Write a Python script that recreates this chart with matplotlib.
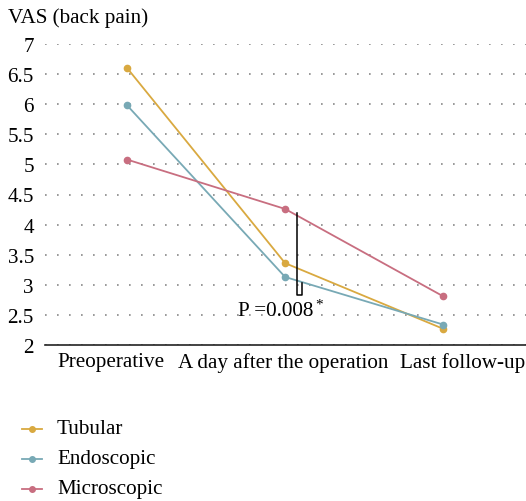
import matplotlib
matplotlib.use("Agg")
import matplotlib.pyplot as plt
from matplotlib.lines import Line2D
from matplotlib.transforms import ScaledTranslation

categories = ["Preoperative", "A day after the operation", "Last follow-up"]
series_names = ["Tubular", "Endoscopic", "Microscopic"]
tubular = [6.60, 3.36, 2.27]
endoscopic = [5.98, 3.13, 2.34]
microscopic = [5.08, 4.26, 2.81]
yticks = [2, 2.5, 3, 3.5, 4, 4.5, 5, 5.5, 6, 6.5, 7]
ytick_labels = ["2", "2.5", "3", "3.5", "4", "4.5", "5", "5.5", "6", "6.5", "7"]
colors = ["#D9A940", "#78A9B5", "#C86E80"]

plt.rcParams['font.family'] = ['Liberation Serif', 'DejaVu Serif']
FS = 15.2

fig = plt.figure(figsize=(5.26, 5.02), dpi=100)
ax = fig.add_axes([45/526, 1-346/502, 1-45/526, (346-45)/502])

x = list(range(len(categories)))
for vals, c in zip([tubular, endoscopic, microscopic], colors):
    ax.plot(x, vals, color=c, lw=1.3, marker='o', ms=4.5, zorder=3)

ax.set_ylim(2, 7)
ax.set_xlim(-0.52, 2.525)
ax.set_yticks(yticks)
ax.set_yticklabels(ytick_labels, fontsize=FS)
ax.set_xticks(x)
ax.set_xticklabels(categories, fontsize=FS)
ax.tick_params(axis='both', length=0)
ax.tick_params(axis='y', pad=8)
ax.tick_params(axis='x', pad=5)
# shift x tick labels horizontally (pixels) to match the reference layout
for lab, dx in zip(ax.get_xticklabels(), [-16, -2, 20]):
    lab.set_transform(lab.get_transform() + ScaledTranslation(dx/100, 0, fig.dpi_scale_trans))
ax.yaxis.grid(True, linestyle=(0, (1, 6.2)), color='#888888', lw=1.2)
ax.set_axisbelow(True)
for s in ['left', 'right', 'top']:
    ax.spines[s].set_visible(False)
ax.spines['bottom'].set_color('#222222')
ax.spines['bottom'].set_linewidth(1.2)

# significance bracket
bx1, bx2 = 1.075, 1.105
ax.plot([bx1, bx1, bx2, bx2], [4.20, 2.83, 2.83, 3.03], color='black', lw=1.1, zorder=4, clip_on=False)
ax.text(0.943, 2.58, "P =0.008", fontsize=FS, ha='center', va='center')
ax.text(1.215, 2.68, "*", fontsize=11, ha='center', va='center')

fig.text(8/526, 1-18/502, "VAS (back pain)", fontsize=FS, ha='left', va='center')

# legend
for i, (name, c) in enumerate(zip(series_names, colors)):
    yy = 1 - (430 + 30*i)/502
    fig.add_artist(Line2D([22/526, 42/526], [yy, yy], color=c, lw=1.3, transform=fig.transFigure))
    fig.add_artist(Line2D([32/526], [yy], color=c, marker='o', ms=4, transform=fig.transFigure))
    fig.text(57/526, yy, name, fontsize=FS, ha='left', va='center')

fig.savefig("out.png", dpi=100)
